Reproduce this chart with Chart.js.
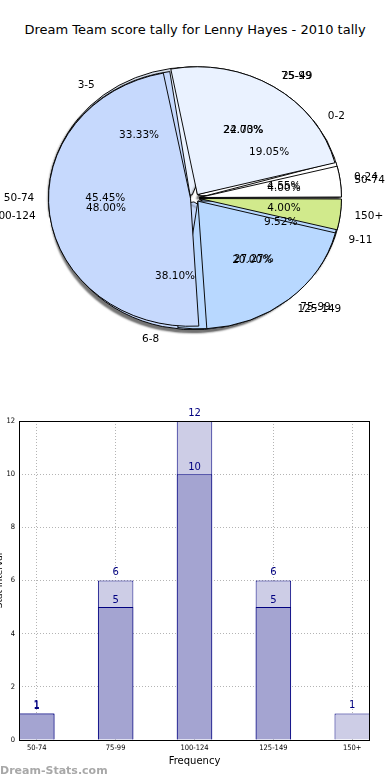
<!DOCTYPE html>
<html><head><meta charset="utf-8">
<script src="https://cdn.jsdelivr.net/npm/chart.js@4.4.1/dist/chart.umd.min.js"></script>
<style>
html,body{margin:0;padding:0;background:#fff;width:390px;height:780px;overflow:hidden;}
#title{position:absolute;left:0;top:22px;width:390px;text-align:center;font:13px "DejaVu Sans";line-height:16px;color:#000;white-space:nowrap;}
.pie{position:absolute;left:0;top:48px;width:390px;height:300px;}
#barWrap{position:absolute;left:0;top:390px;width:390px;height:390px;}
#wm{position:absolute;left:0;top:764px;font:bold 11px "DejaVu Sans";line-height:13px;color:#a8a8a8;}
</style></head>
<body>
<div id="title">Dream Team score tally for Lenny Hayes - 2010 tally</div>
<div class="pie"><canvas id="pie3"></canvas></div>
<div class="pie"><canvas id="pie2"></canvas></div>
<div class="pie"><canvas id="pie1"></canvas></div>
<div id="barWrap"><canvas id="bar"></canvas></div>
<div id="wm">Dream-Stats.com</div>
<script>
// ---- data ----
const scoreCats = ['50-74','75-99','100-124','125-149','150+'];
const scoreCounts = [1, 6, 12, 5, 1];
const altCats = ['0-24','25-49','50-74','75-99'];
const altCounts = [1, 5, 10, 6];
const roundCats = ['0-2','3-5','6-8','9-11'];
const roundCounts = [4, 7, 8, 2];
const barCats = ['50-74','75-99','100-124','125-149','150+'];
const barTotals = [1, 6, 12, 6, 1];
const barSub = [1, 5, 10, 5, 0];
const yTicks = [0, 2, 4, 6, 8, 10, 12];

// ---- style ----
const PALETTE = ['#ffffff','#eaf2ff','#c6d9fd','#b8d8ff','#d1ea8c'];
const ASPECT = 0.9;
const R = 142;
const EXPLODE = 18;   // Chart.js moves arcs by offset/4 px
const FONT = '"DejaVu Sans", sans-serif';
const pies = [];

function ellipsePlugin(shadow){
  return {
    id:'ellipse',
    afterDatasetUpdate(chart, args){
      // keep every exploded wedge at the same radius (Chart.js grows small wedges by the offset)
      args.meta.data.forEach(arc => {
        const off = (arc.options && arc.options.offset || 0)/4;
        const c = arc.endAngle - arc.startAngle;
        const fix = 1 - Math.sin(Math.min(Math.PI, c));
        arc.outerRadius = R - off*fix;
      });
    },
    beforeDatasetsDraw(chart){
      const ctx = chart.ctx, a = chart.chartArea;
      const cx = (a.left + a.right)/2, cy = (a.top + a.bottom)/2;
      ctx.save();
      ctx.translate(cx, cy); ctx.scale(1, ASPECT); ctx.translate(-cx, -cy);
      if (shadow){
        ctx.shadowColor = 'rgba(0,0,0,0.55)';
        ctx.shadowOffsetX = -2; ctx.shadowOffsetY = 3; ctx.shadowBlur = 2;
      }
    },
    afterDatasetsDraw(chart){ chart.ctx.restore(); }
  };
}
function drawPieLabels(ctx, chart){
  const meta = chart.getDatasetMeta(0);
  const ds = chart.data.datasets[0];
  const total = ds.data.reduce((s,v)=>s+v, 0);
  meta.data.forEach((arc, i) => {
    const p = arc.getProps(['x','y','startAngle','endAngle'], true);
    const mid = (p.startAngle + p.endAngle)/2;
    const off = (arc.options.offset || 0)/4;
    const cs = Math.cos(mid), sn = Math.sin(mid);
    const lr = 1.1*R + off, pr = 0.6*R + off;
    ctx.textAlign = cs > 0 ? 'left' : 'right';
    ctx.fillText(chart.data.labels[i], p.x + cs*lr, p.y + sn*lr*ASPECT);
    ctx.textAlign = 'center';
    ctx.fillText((ds.data[i]/total*100).toFixed(2) + '%', p.x + cs*pr, p.y + sn*pr*ASPECT);
  });
}
const allLabelsPlugin = {
  id:'allPieLabels',
  afterDraw(chart){
    const ctx = chart.ctx;
    ctx.save();
    ctx.font = '10.5px ' + FONT;
    ctx.fillStyle = '#000';
    ctx.textBaseline = 'middle';
    pies.concat([chart]).forEach(c => drawPieLabels(ctx, c));
    ctx.restore();
  }
};
function makePie(id, cats, vals, shadow, top){
  const labels = cats.slice().reverse();
  const data = vals.slice().reverse();
  const colors = cats.map((_, i) => PALETTE[i % PALETTE.length]).reverse();
  const plugins = [ellipsePlugin(shadow)];
  if (top) plugins.push(allLabelsPlugin);
  const c = new Chart(document.getElementById(id), {
    type:'pie',
    data:{labels, datasets:[{data, backgroundColor:colors, borderColor:'#000', borderWidth:1,
      offset:EXPLODE, hoverOffset:0, clip:false, radius:R}]},
    options:{responsive:true, maintainAspectRatio:false, animation:false, events:[],
      rotation:90, radius:R, layout:{padding:0},
      plugins:{legend:{display:false}, tooltip:{enabled:false}, title:{display:false}}},
    plugins
  });
  if (!top) pies.push(c);
  return c;
}
makePie('pie3', roundCats, roundCounts, true, false);
makePie('pie2', altCats, altCounts, false, false);
makePie('pie1', scoreCats, scoreCounts, false, true);

// ---- bar chart ----
const boxPlugin = {
  id:'box',
  afterDatasetsDraw(chart){
    const ctx = chart.ctx, a = chart.chartArea;
    ctx.save();
    ctx.strokeStyle = '#000'; ctx.lineWidth = 1;
    ctx.strokeRect(Math.round(a.left)+0.5, Math.round(a.top)+0.5, Math.round(a.right-a.left)-1, Math.round(a.bottom-a.top));
    ctx.restore();
    ctx.save();
    ctx.font = '10px ' + FONT; ctx.fillStyle = '#000080';
    ctx.textAlign = 'center'; ctx.textBaseline = 'bottom';
    chart.data.datasets.forEach((ds, di) => {
      const meta = chart.getDatasetMeta(di);
      meta.data.forEach((el, i) => {
        const v = ds.data[i].y;
        if (v > 0) ctx.fillText(String(v), el.x, el.y - 3 + (di === 0 ? 1 : 0));
      });
    });
    ctx.restore();
  }
};
const tickFont = {family:'"DejaVu Sans Condensed", "DejaVu Sans", sans-serif', size:7.5};
new Chart(document.getElementById('bar'), {
  type:'bar',
  data:{datasets:[
    {label:'sub', data: barSub.map((v,i)=>({x:i, y:v})), backgroundColor:'#a4a4d1', borderColor:'#000080', borderWidth:1, grouped:false, barPercentage:0.45, categoryPercentage:1},
    {label:'total', data: barTotals.map((v,i)=>({x:i, y:v})), backgroundColor:'#cdcde6', borderColor:'#000080', borderWidth:1, grouped:false, barPercentage:0.45, categoryPercentage:1}
  ]},
  options:{responsive:true, maintainAspectRatio:false, animation:false, events:[],
    layout:{padding:{left:0, right:20, top:31, bottom:0}},
    plugins:{legend:{display:false}, tooltip:{enabled:false}},
    scales:{
      x:{type:'linear', min:-0.225, max:4.225, offset:false,
        afterBuildTicks: s => { s.ticks = barCats.map((_, i) => ({value:i})); },
        afterFit: s => { s.height = 40; },
        ticks:{callback: v => barCats[v], font:tickFont, color:'#000', padding:4, maxRotation:0, autoSkip:false},
        grid:{color:'#b4b4b4', lineWidth:1, drawTicks:false, offset:false},
        border:{display:false, dash:[1,2]},
        title:{display:true, text:'Frequency', font:{family:FONT, size:10}, color:'#000', padding:{top:4, bottom:13}}},
      y:{min:0, max:12,
        afterBuildTicks: s => { s.ticks = yTicks.map(v => ({value:v})); },
        afterFit: s => { s.width = 19; },
        ticks:{font:tickFont, color:'#000', padding:4},
        grid:{color:'#b4b4b4', lineWidth:1, drawTicks:false},
        border:{display:false, dash:[1,2]},
        title:{display:true, text:'Stat Interval', font:{family:FONT, size:9}, color:'#000', padding:{top:-6, bottom:0}}}
    }
  },
  plugins:[boxPlugin]
});
</script>
</body></html>
